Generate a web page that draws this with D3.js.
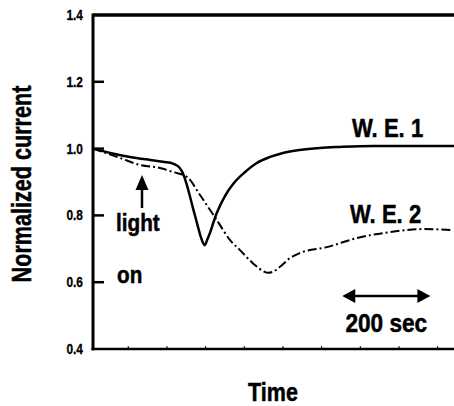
<!DOCTYPE html>
<html>
<head>
<meta charset="utf-8">
<script src="https://cdn.jsdelivr.net/npm/d3@7"></script>
<style>
  body { margin: 0; background: #fff; }
  svg { display: block; }
  text { font-family: "Liberation Sans", Arial, sans-serif; font-weight: bold; fill: #000; stroke: #000; stroke-width: 0.5px; }
</style>
</head>
<body>
<svg id="chart"></svg>
<script>
// Chart size
const width = 454;
const height = 406;

// Data (time in sec, normalized current)
const we1Time  = [0, 40, 86, 133, 167, 186, 200, 209, 218, 226, 234, 242, 251, 260, 266, 272, 280, 288, 307, 326, 354, 381, 412, 442, 481, 528, 574, 651, 737, 840];
const we1Value = [1.0, 0.987, 0.975, 0.966, 0.960, 0.955, 0.945, 0.927, 0.893, 0.855, 0.815, 0.777, 0.735, 0.711, 0.728, 0.747, 0.778, 0.807, 0.858, 0.894, 0.930, 0.957, 0.975, 0.987, 0.996, 1.002, 1.005, 1.008, 1.008, 1.008];

const we2Time  = [0, 63, 109, 156, 186, 219, 249, 288, 319, 342, 372, 398, 407, 420, 435, 458, 481, 544, 614, 691, 767, 837];
const we2Value = [1.0, 0.972, 0.951, 0.942, 0.930, 0.915, 0.861, 0.786, 0.726, 0.696, 0.657, 0.632, 0.628, 0.632, 0.646, 0.672, 0.687, 0.705, 0.732, 0.750, 0.759, 0.756];

const yTicks = [1.4, 1.2, 1.0, 0.8, 0.6, 0.4];
const xMinorTicks = [82, 172, 262, 352, 442, 532, 622, 712, 802];
const scaleBar = [580, 785]; // 200 sec

const svg = d3.select("#chart")
  .attr("width", width)
  .attr("height", height);

const x = d3.scaleLinear().domain([0, 840]).range([93, 454]);
const y = d3.scaleLinear().domain([0.4, 1.4]).range([349, 15]);

// condensed bold text, like the scanned figure
function addText(px, py, str, size, sx, anchor, rot) {
  return svg.append("text")
    .attr("transform", `translate(${px},${py})` + (rot ? ` rotate(${rot})` : "") + ` scale(${sx},1)`)
    .attr("text-anchor", anchor || "start")
    .style("font-size", size + "px")
    .text(str);
}

// Frame: top, left, bottom
svg.append("line").attr("x1", x(0)).attr("x2", width).attr("y1", y(1.4)).attr("y2", y(1.4))
   .attr("stroke", "#000").attr("stroke-width", 3.5);
svg.append("line").attr("x1", x(0)).attr("x2", x(0)).attr("y1", y(1.4) - 1.5).attr("y2", y(0.4) + 1.2)
   .attr("stroke", "#000").attr("stroke-width", 3);
svg.append("line").attr("x1", x(0) - 1.5).attr("x2", width).attr("y1", y(0.4)).attr("y2", y(0.4))
   .attr("stroke", "#000").attr("stroke-width", 2.5);

// Y ticks (inward) and labels
svg.selectAll(".ytick").data(yTicks.slice(1, -1)).enter().append("line")
   .attr("x1", x(0)).attr("x2", x(0) + 11)
   .attr("y1", d => y(d)).attr("y2", d => y(d))
   .attr("stroke", "#000").attr("stroke-width", 2.5);

yTicks.forEach(d => addText(83, y(d) + 5, d.toFixed(1), 14, 0.85, "end").style("stroke-width", "0.3px"));

// X minor ticks
svg.selectAll(".xtick").data(xMinorTicks).enter().append("line")
   .attr("x1", d => x(d)).attr("x2", d => x(d))
   .attr("y1", y(0.4)).attr("y2", y(0.4) - 3)
   .attr("stroke", "#000").attr("stroke-width", 1);

// Curves
const line = d3.line().curve(d3.curveMonotoneX);

svg.append("path")
   .attr("d", line(we2Time.map((t, i) => [x(t), y(we2Value[i])])))
   .attr("fill", "none").attr("stroke", "#000").attr("stroke-width", 2)
   .attr("stroke-dasharray", "9,3,2,3");

svg.append("path")
   .attr("d", line(we1Time.map((t, i) => [x(t), y(we1Value[i])])))
   .attr("fill", "none").attr("stroke", "#000").attr("stroke-width", 2.5);

// Series labels
addText(352, 137, "W. E. 1", 26, 0.85);
addText(350, 223, "W. E. 2", 26, 0.85);

// "light on" arrow
svg.append("line").attr("x1", 142).attr("x2", 142).attr("y1", 208).attr("y2", 188)
   .attr("stroke", "#000").attr("stroke-width", 2.5);
svg.append("path").attr("d", "M142,175L148.5,190L135.5,190Z").attr("fill", "#000");
addText(116, 231, "light", 23, 0.9);
addText(117, 283, "on", 23, 0.9);

// 200 sec scale bar
const sx0 = x(scaleBar[0]), sx1 = x(scaleBar[1]), sy = 296;
svg.append("line").attr("x1", sx0 + 10).attr("x2", sx1 - 10).attr("y1", sy).attr("y2", sy)
   .attr("stroke", "#000").attr("stroke-width", 2.5);
svg.append("path").attr("d", `M${sx0},${sy}L${sx0 + 13},${sy - 7}L${sx0 + 13},${sy + 7}Z`).attr("fill", "#000");
svg.append("path").attr("d", `M${sx1},${sy}L${sx1 - 13},${sy - 7}L${sx1 - 13},${sy + 7}Z`).attr("fill", "#000");
addText((sx0 + sx1) / 2, 332, "200 sec", 26, 0.87, "middle");

// Axis titles
addText(273, 401, "Time", 25, 0.86, "middle");
addText(31, 184, "Normalized current", 27, 0.8, "middle", -90);
</script>
</body>
</html>
